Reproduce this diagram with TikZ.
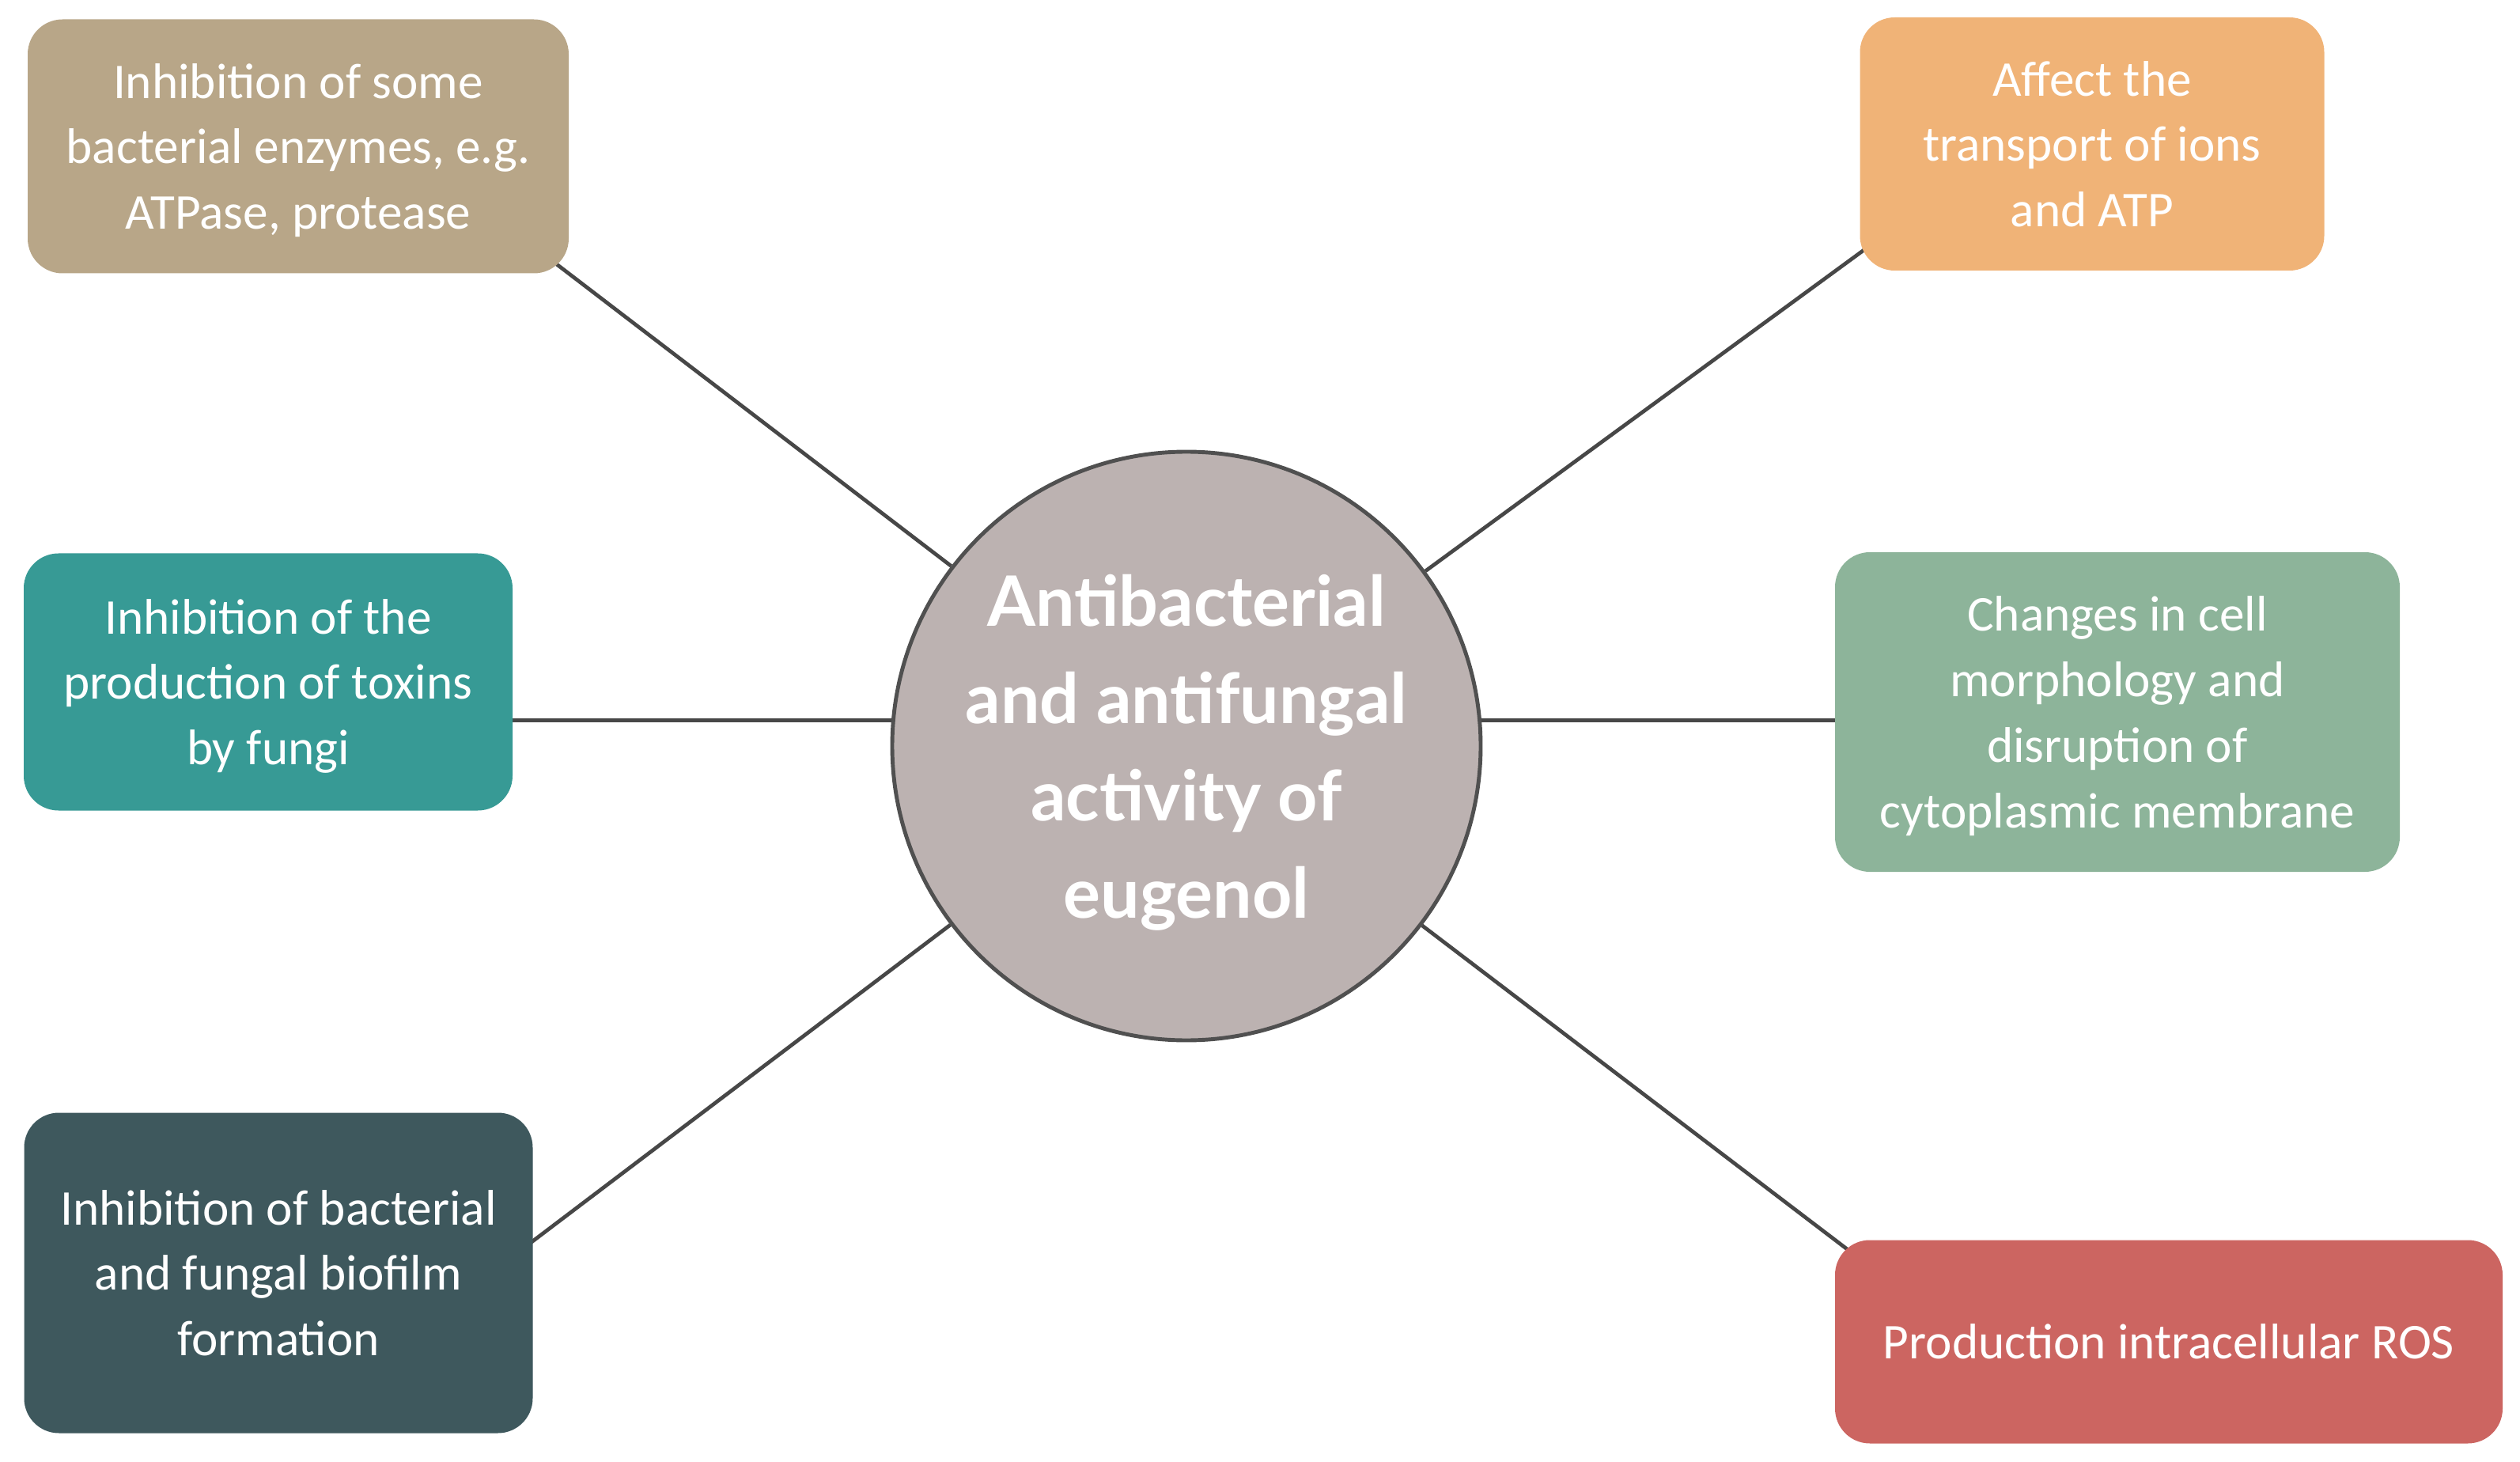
\documentclass[tikz,border=0pt]{standalone}
\usepackage{fontspec}
\setmainfont{Carlito}
\newfontfamily\latofont{Lato}
\usetikzlibrary{backgrounds,calc}
\definecolor{enzymetan}{HTML}{B8A688}
\definecolor{transportorange}{HTML}{F0B377}
\definecolor{toxinteal}{HTML}{379A95}
\definecolor{membranegreen}{HTML}{8DB49A}
\definecolor{biofilmslate}{HTML}{3E585D}
\definecolor{rosred}{HTML}{CC6561}
\definecolor{hubfill}{HTML}{BCB2B1}
\definecolor{hubline}{HTML}{505050}
\definecolor{linkgray}{HTML}{474747}
\begin{document}
\begin{tikzpicture}[
        effect/.style={rounded corners=0.44cm, text=white, align=center, inner sep=0pt, text depth=0pt,
            font=\fontsize{18}{23.6}\selectfont},
        link/.style={draw=linkgray, line width=1.35pt, shorten >=-0.3cm}]
        \useasboundingbox (0,0) rectangle (31.86,-18.48);
        % centre
        \node[circle, fill=hubfill, draw=hubline, line width=1.4pt, minimum size=7.44cm, inner sep=0pt,
            text=white, align=center, text depth=0pt, font=\latofont\bfseries\fontsize{25}{35}\selectfont] (eugenol) at (15.00,-9.43)
            {Antibacterial\\and antifungal\\activity of\\eugenol};
        % left column
        \node[effect, fill=enzymetan, minimum width=6.84cm, minimum height=3.21cm] (enzymes) at (3.77,-1.85)
            {Inhibition of some\\bacterial enzymes, e.g.\\ATPase, protease};
        \node[effect, fill=toxinteal, minimum width=6.18cm, minimum height=3.25cm] (toxins) at (3.39,-8.62)
            {Inhibition of the\\production of toxins\\by fungi};
        \node[effect, fill=biofilmslate, minimum width=6.43cm, minimum height=4.05cm] (biofilm) at (3.52,-16.09)
            {Inhibition of bacterial\\and fungal biofilm\\formation};
        % right column
        \node[effect, fill=transportorange, minimum width=5.87cm, minimum height=3.20cm] (transport) at (26.45,-1.82)
            {Affect the\\transport of ions\\and ATP};
        \node[effect, fill=membranegreen, minimum width=7.14cm, minimum height=4.04cm] (membrane) at (26.77,-9.00)
            {Changes in cell\\morphology and\\disruption of\\cytoplasmic membrane};
        \node[effect, fill=rosred, minimum width=8.44cm, minimum height=2.57cm] (ros) at (27.42,-16.96)
            {Production intracellular ROS};
        % connectors
        \begin{scope}[on background layer]
            \draw[link] (eugenol) -- (enzymes.south east);
            \draw[link] (eugenol.175) -- (eugenol.175 -| toxins.east);
            \draw[link] (eugenol) -- ($(biofilm.north east)!0.4!(biofilm.south east)$);
            \draw[link] (eugenol) -- ($(transport.north west)!0.93!(transport.south west)$);
            \draw[link] (eugenol.5) -- (eugenol.5 -| membrane.west);
            \draw[link] (eugenol) -- (ros.north west);
        \end{scope}
    \end{tikzpicture}
\end{document}
